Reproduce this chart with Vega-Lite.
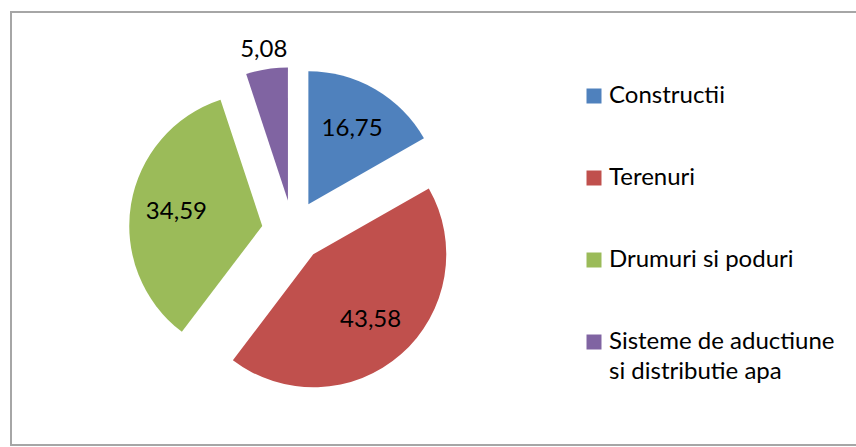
{
  "$schema": "https://vega.github.io/schema/vega-lite/v6.json",
  "width": 847,
  "height": 433,
  "padding": {"left": 11, "top": 12, "right": 0, "bottom": 2},
  "background": "white",
  "view": {"stroke": "#a6a6a6", "strokeWidth": 2, "fill": "white"},
  "config": {
    "font": "Lato",
    "style": {"guide-label": {"lineHeight": 30}}
  },
  "data": {
    "values": [
      {"cat": "Constructii", "v": 16.75, "i": 1},
      {"cat": "Terenuri", "v": 43.58, "i": 2},
      {"cat": "Drumuri si poduri", "v": 34.59, "i": 3},
      {"cat": "Sisteme de aductiune si distributie apa", "v": 5.08, "i": 4}
    ]
  },
  "encoding": {
    "theta": {"field": "v", "type": "quantitative", "stack": true},
    "order": {"field": "i", "type": "quantitative"}
  },
  "layer": [
    {
      "mark": {
        "type": "arc",
        "outerRadius": 133,
        "x": {"expr": "width/3 - 0.5"},
        "y": {"expr": "height/2 + 2.5"},
        "xOffset": {"expr": "31*sin(scale('theta', (datum.v_start + datum.v_end)/2))"},
        "yOffset": {"expr": "-31*cos(scale('theta', (datum.v_start + datum.v_end)/2))"}
      },
      "encoding": {
        "color": {
          "field": "cat",
          "type": "nominal",
          "scale": {
            "domain": ["Constructii", "Terenuri", "Drumuri si poduri", "Sisteme de aductiune si distributie apa"],
            "range": ["#4F81BD", "#C0504D", "#9BBB59", "#8064A2"]
          },
          "legend": {
            "orient": "none",
            "legendX": 571,
            "legendY": 72,
            "padding": 0,
            "title": null,
            "symbolType": "square",
            "symbolSize": 225,
            "symbolStrokeWidth": 0,
            "labelFontSize": 24,
            "labelFont": "Lato",
            "labelColor": "black",
            "labelOffset": 3,
            "rowPadding": 58,
            "labelLimit": 400,
            "labelExpr": "datum.label == 'Sisteme de aductiune si distributie apa' ? ['Sisteme de aductiune', 'si distributie apa'] : datum.label"
          }
        }
      }
    },
    {
      "mark": {
        "type": "text",
        "fontSize": 24,
        "color": "black",
        "radius": {"expr": "datum.v < 10 ? 152 : 87"},
        "x": {"expr": "width/3 - 0.5"},
        "y": {"expr": "height/2 + 2.5"},
        "xOffset": {"expr": "31*sin(scale('theta', (datum.v_start + datum.v_end)/2))"},
        "yOffset": {"expr": "-31*cos(scale('theta', (datum.v_start + datum.v_end)/2))"},
        "text": {"expr": "replace(format(datum.v, '.2f'), '.', ',')"}
      }
    }
  ]
}
